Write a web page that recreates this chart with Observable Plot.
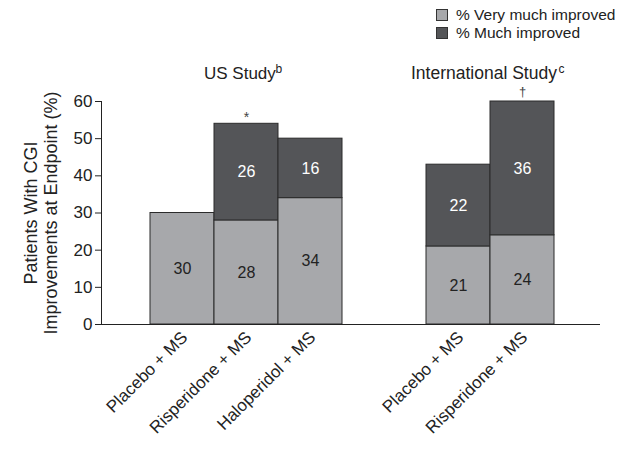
<!DOCTYPE html>
<html>
<head>
<meta charset="utf-8">
<script src="https://cdn.jsdelivr.net/npm/d3@7"></script>
<script src="https://cdn.jsdelivr.net/npm/@observablehq/plot@0.6"></script>
<style>
  body { margin: 0; background: #fff; }
  #wrap { position: relative; width: 633px; height: 449px; font-family: "Liberation Sans", Arial, sans-serif; }
  #legend { position: absolute; left: 436px; top: 6px; font-size: 15.5px; color: #222; line-height: 18px; }
  #legend .row { display: flex; align-items: center; white-space: nowrap; }
  #legend .sw { width: 10px; height: 10px; border: 1px solid #333; margin-right: 8px; }
</style>
</head>
<body>
<div id="wrap"><div id="legend"></div></div>
<script>
// ---- data ----
const studyOf    = ["US", "US", "US", "International", "International"];
const treatments = ["Placebo + MS", "Risperidone + MS", "Haloperidol + MS", "Placebo + MS", "Risperidone + MS"];
const veryMuch   = [30, 28, 34, 21, 24];   // % Very much improved
const much       = [0, 26, 16, 22, 36];    // % Much improved
const markers    = ["", "*", "", "", "\u2020"];
const seriesNames  = ["% Very much improved", "% Much improved"];
const seriesColors = ["#a7a8ab", "#545558"];
const studyTitles  = ["US Study", "International Study"];
const studySups    = ["b", "c"];
const studies      = ["US", "International"];
const yTicks = [0, 10, 20, 30, 40, 50, 60];

// ---- derived tables ----
const keyOf = i => studyOf[i] + "|" + treatments[i];
const xDomain = [keyOf(0), keyOf(1), keyOf(2), "gap", keyOf(3), keyOf(4)];

const segs = [];
treatments.forEach((t, i) => {
  const vals = [veryMuch[i], much[i]];
  let base = 0;
  vals.forEach((v, s) => {
    if (v > 0) segs.push({key: keyOf(i), study: studyOf[i], series: seriesNames[s], s, y1: base, y2: base + v, mid: base + v / 2, value: v});
    base += v;
  });
});
const bars = treatments.map((t, i) => ({key: keyOf(i), study: studyOf[i], label: t, total: veryMuch[i] + much[i], marker: markers[i]}));
const titleRows = studies.map((s, j) => ({study: s, key: keyOf(studyOf.indexOf(s)), title: studyTitles[j], sup: studySups[j]}));

const color = {domain: seriesNames, range: seriesColors};
const isUS = d => d.study === "US";
const isIntl = d => d.study !== "US";
const shift = 20;

function groupMarks(filter, dx) {
  const sg = segs.filter(filter), bs = bars.filter(filter);
  return [
    Plot.rectY(sg, {x: "key", y1: "y1", y2: "y2", fill: "series", stroke: "#2b2b2b", strokeWidth: 1, dx}),
    Plot.text(sg, {x: "key", y: "mid", text: d => String(d.value), fill: d => d.s === 0 ? "#222" : "#fff", fontSize: 16, dx}),
    Plot.text(bs, {x: "key", frameAnchor: "bottom", text: "label", rotate: -45, textAnchor: "end", fontSize: 17, fill: "#222", dx: dx + 6, dy: 14})
  ];
}

const chart = Plot.plot({
  width: 633,
  height: 449,
  marginLeft: 101,
  marginRight: 33,
  marginTop: 101,
  marginBottom: 125,
  style: {fontFamily: "'Liberation Sans', Arial, sans-serif", background: "transparent", color: "#222"},
  x: {type: "band", domain: xDomain, range: [149.5, 533.5], padding: 0, axis: null},
  y: {domain: [0, 60], axis: null},
  color: {...color, type: "ordinal"},
  marks: [
    ...groupMarks(isUS, 0),
    ...groupMarks(isIntl, shift),
    Plot.text(bars.filter(d => isUS(d) && d.marker), {x: "key", y: "total", text: "marker", fontSize: 14, lineAnchor: "bottom", dy: -2, fill: "#444"}),
    Plot.text(bars.filter(d => isIntl(d) && d.marker), {x: "key", y: "total", text: "marker", fontSize: 13, lineAnchor: "bottom", dy: -6, dx: shift, fill: "#444"}),
    // study titles
    Plot.text(titleRows.filter(isUS), {x: "key", frameAnchor: "top", text: "title", textAnchor: "start", lineAnchor: "bottom", fontSize: 17, dx: 21.5, dy: -23, fill: "#222"}),
    Plot.text(titleRows.filter(isUS), {x: "key", frameAnchor: "top", text: "sup", textAnchor: "start", lineAnchor: "bottom", fontSize: 12, dx: 93, dy: -29, fill: "#222"}),
    Plot.text(titleRows.filter(isIntl), {x: "key", frameAnchor: "top", text: "title", textAnchor: "start", lineAnchor: "bottom", fontSize: 17.5, dx: -27.5, dy: -23, fill: "#222"}),
    Plot.text(titleRows.filter(isIntl), {x: "key", frameAnchor: "top", text: "sup", textAnchor: "start", lineAnchor: "bottom", fontSize: 12, dx: 120, dy: -29, fill: "#222"}),
    // axes
    Plot.axisY({ticks: yTicks, tickSize: 6, tickPadding: 3, fontSize: 17, label: null, stroke: "#222"}),
    Plot.text(["Patients With CGI\nImprovements at Endpoint (%)"], {frameAnchor: "left", rotate: -90, textAnchor: "middle", fontSize: 18, lineHeight: 1.1, dx: -61, fill: "#222"}),
    Plot.frame({anchor: "left", stroke: "#222"}),
    Plot.ruleY([0], {stroke: "#222"})
  ]
});
document.getElementById("wrap").prepend(chart);

// legend
const lg = d3.select("#legend");
seriesNames.forEach((n, i) => {
  const row = lg.append("div").attr("class", "row");
  row.append("div").attr("class", "sw").style("background", seriesColors[i]);
  row.append("span").text(n);
});
</script>
</body>
</html>
